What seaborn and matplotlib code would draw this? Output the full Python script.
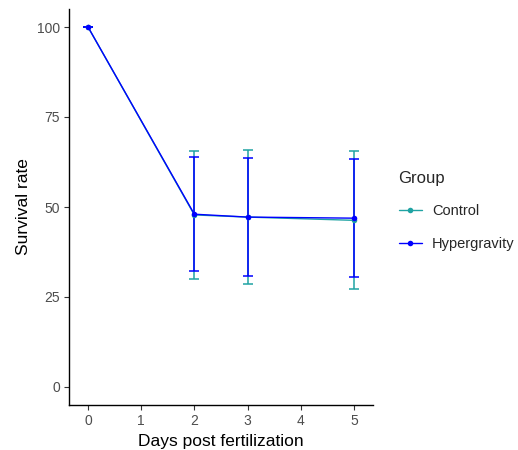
import matplotlib
matplotlib.use("Agg")
import matplotlib.pyplot as plt
import numpy as np
import pandas as pd
import seaborn as sns

# %% data
days = [0, 2, 3, 5]
groups = ["Control", "Hypergravity"]
control_mean = [100, 47.8, 47.2, 46.3]
control_sd = [0, 17.8, 18.6, 19.2]
hyper_mean = [100, 48.0, 47.2, 46.9]
hyper_sd = [0, 15.8, 16.4, 16.4]

colors = {"Control": "#1fa3a3", "Hypergravity": "#0000ff"}

df = pd.DataFrame({
    "day": days * 2,
    "survival": control_mean + hyper_mean,
    "sd": control_sd + hyper_sd,
    "Group": ["Control"] * len(days) + ["Hypergravity"] * len(days),
})

# %% plot
sns.set_style("white")
plt.rcParams["font.family"] = ["Liberation Sans", "DejaVu Sans"]

fig, ax = plt.subplots(figsize=(5.18, 4.5), dpi=100)
fig.subplots_adjust(left=0.133, right=0.72, top=0.98, bottom=0.10)

for g in groups:
    sub = df[df["Group"] == g]
    ax.errorbar(sub["day"], sub["survival"], yerr=sub["sd"], fmt="none",
                ecolor=colors[g], elinewidth=1.1, capsize=3.8, capthick=1.1,
                zorder=2)

sns.lineplot(data=df, x="day", y="survival", hue="Group", palette=colors,
             marker="o", markersize=4, markeredgewidth=0, linewidth=1,
             ax=ax, zorder=3)

ax.set_xlim(-0.36, 5.36)
ax.set_ylim(-5, 105)
ax.set_xticks([0, 1, 2, 3, 4, 5])
ax.set_yticks([0, 25, 50, 75, 100])
ax.set_xlabel("Days post fertilization", fontsize=12.5, color="black")
ax.set_ylabel("Survival rate", fontsize=12.5, color="black")
ax.tick_params(axis="both", which="major", length=3.5, width=0.8,
               color="#333333", labelsize=10, labelcolor="#4d4d4d",
               direction="out", bottom=True, left=True, pad=3)

for side in ["top", "right"]:
    ax.spines[side].set_visible(False)
for side in ["left", "bottom"]:
    ax.spines[side].set_color("black")
    ax.spines[side].set_linewidth(1)

leg = ax.legend(title="Group", loc="center left", bbox_to_anchor=(1.065, 0.49),
                frameon=False, fontsize=10.5, title_fontsize=12,
                handlelength=1.6, handletextpad=0.7, labelspacing=1.25,
                borderaxespad=0)
leg._legend_box.align = "left"

fig.savefig("out.png", dpi=100)
